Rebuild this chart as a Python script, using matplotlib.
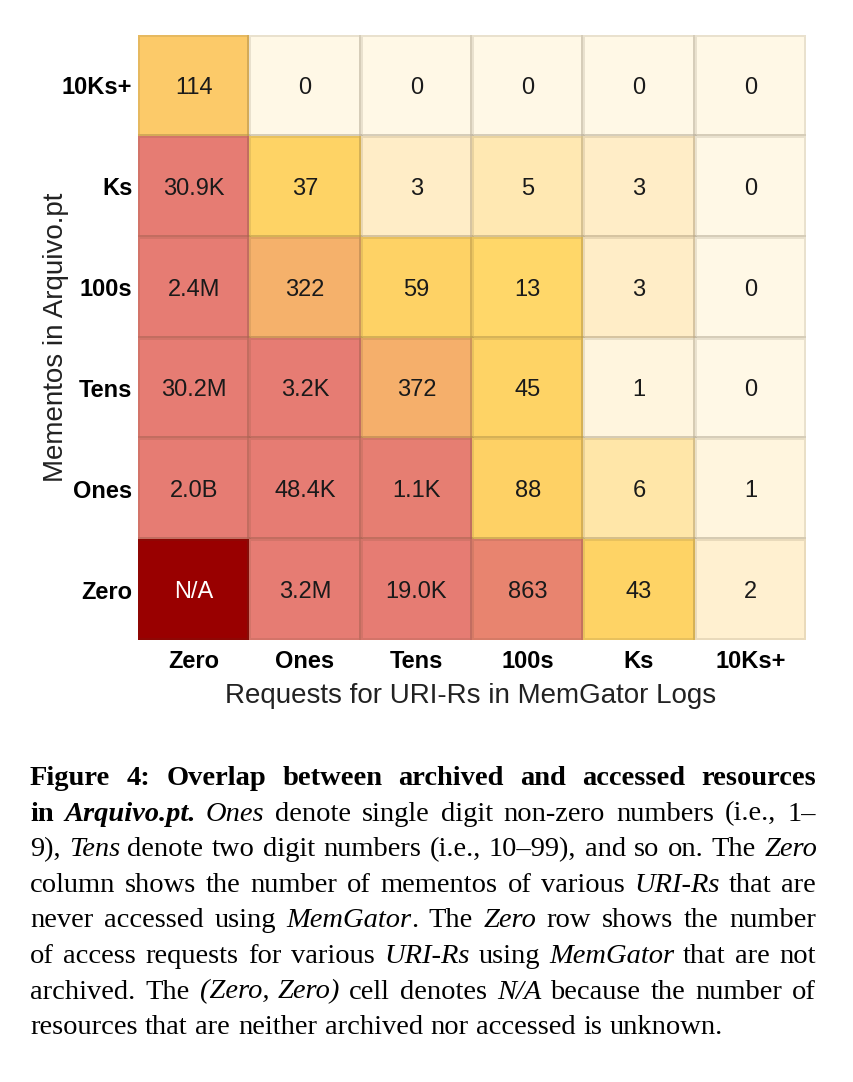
import numpy as np
import matplotlib
matplotlib.use("Agg")
import matplotlib.pyplot as plt
from matplotlib.colors import LinearSegmentedColormap, Normalize

# rows top to bottom (mementos), columns left to right (requests)
rows = ["10Ks+", "Ks", "100s", "Tens", "Ones", "Zero"]
cols = ["Zero", "Ones", "Tens", "100s", "Ks", "10Ks+"]

counts = np.array([
    [114, 0, 0, 0, 0, 0],
    [30.9e3, 37, 3, 5, 3, 0],
    [2.4e6, 322, 59, 13, 3, 0],
    [30.2e6, 3.2e3, 372, 45, 1, 0],
    [2.0e9, 48.4e3, 1.1e3, 88, 6, 1],
    [np.nan, 3.2e6, 19.0e3, 863, 43, 2],
])

cell_text = [
    ["114", "0", "0", "0", "0", "0"],
    ["30.9K", "37", "3", "5", "3", "0"],
    ["2.4M", "322", "59", "13", "3", "0"],
    ["30.2M", "3.2K", "372", "45", "1", "0"],
    ["2.0B", "48.4K", "1.1K", "88", "6", "1"],
    ["N/A", "3.2M", "19.0K", "863", "43", "2"],
]

x_title = "Requests for URI-Rs in MemGator Logs"
y_title = "Mementos in Arquivo.pt"

# caption lines as (style, text) runs; r=regular, i=italic, b=bold, bi=bold italic
caption = [
    [("b", "Figure 4: Overlap between archived and accessed resources")],
    [("b", "in "), ("bi", "Arquivo.pt."), ("r", " "), ("i", "Ones"),
     ("r", " denote single digit non-zero numbers (i.e., 1\u2013")],
    [("r", "9), "), ("i", "Tens"),
     ("r", " denote two digit numbers (i.e., 10\u201399), and so on. The "), ("i", "Zero")],
    [("r", "column shows the number of mementos of various "), ("i", "URI-Rs"),
     ("r", " that are")],
    [("r", "never accessed using "), ("i", "MemGator"), ("r", ". The "), ("i", "Zero"),
     ("r", " row shows the number")],
    [("r", "of access requests for various "), ("i", "URI-Rs"), ("r", " using "),
     ("i", "MemGator"), ("r", " that are not")],
    [("r", "archived. The "), ("i", "(Zero, Zero)"), ("r", " cell denotes "), ("i", "N/A"),
     ("r", " because the number of")],
    [("r", "resources that are neither archived nor accessed is unknown.")],
]

# colour scale on log10(count + 1)
stops = [
    (0.0, "#FFF8E6"), (0.30, "#FFF5DD"), (0.60, "#FFEDC6"), (0.85, "#FFE5A4"),
    (1.15, "#FFD666"), (1.95, "#FED165"), (2.06, "#FBC86A"), (2.55, "#F5AF6B"),
    (2.94, "#E8846F"), (3.04, "#E67C73"), (10.0, "#E67C73"),
]
cmap = LinearSegmentedColormap.from_list("sheet", [(p / 10.0, c) for p, c in stops])
cmap.set_bad("#990000")

plt.rcParams["font.family"] = "Liberation Sans"

W, H = 854, 1082
fig = plt.figure(figsize=(W / 100, H / 100), dpi=100)
ax = fig.add_axes([138 / W, 1 - 640 / H, (806 - 138) / W, (640 - 35) / H])

z = np.ma.masked_invalid(np.log10(counts + 1))
ax.pcolormesh(z, cmap=cmap, norm=Normalize(0, 10),
              edgecolors=(0.3, 0.25, 0.15, 0.12), linewidth=1.5)
ax.set_xlim(0, 6)
ax.set_ylim(6, 0)

for i in range(len(rows)):
    for j in range(len(cols)):
        t = cell_text[i][j]
        ax.text(j + 0.5, i + 0.585, t, ha="center", va="baseline", fontsize=17,
                color="white" if t == "N/A" else "#1a1a1a")

ax.set_xticks(np.arange(6) + 0.5)
ax.set_xticklabels(cols, fontsize=17, fontweight="bold")
ax.set_yticks(np.arange(6) + 0.5)
ax.set_yticklabels(rows, fontsize=17, fontweight="bold")
ax.tick_params(length=0)
ax.tick_params(axis="x", pad=7)
ax.tick_params(axis="y", pad=4)
for s in ax.spines.values():
    s.set_visible(False)

fig.text(471 / W, 1 - 703 / H, x_title, ha="center", va="baseline", fontsize=20,
         color="#222222")
fig.text(56 / W, 1 - 337 / H, y_title, ha="center", va="center", rotation=90,
         fontsize=20, color="#222222")

# justified caption
styles = {"r": ("normal", "normal"), "i": ("normal", "italic"),
          "b": ("bold", "normal"), "bi": ("bold", "italic")}
renderer = fig.canvas.get_renderer()
left, right = 30, 816
base0, step = 785, 35.6
cap_size = 20.5


def split_words(runs):
    words, cur = [], []
    for st, txt in runs:
        parts = txt.split(" ")
        for k, p in enumerate(parts):
            if k > 0:
                if cur:
                    words.append(cur)
                cur = []
            if p:
                cur.append((st, p))
    if cur:
        words.append(cur)
    return words


def piece_width(st, txt, size):
    w, sl = styles[st]
    t = fig.text(0, 0, txt, fontsize=size, family="Liberation Serif",
                 fontweight=w, fontstyle=sl)
    bb = t.get_window_extent(renderer)
    t.remove()
    w_px = bb.width
    if sl == "italic":
        w_px -= 0.04 * size * 100 / 72  # italic overhang
    return w_px


def space_width(size):
    return 0.2 * size * 100 / 72


for n, runs in enumerate(caption):
    ws = split_words(runs)
    size = cap_size
    widths = [[piece_width(st, p, size) for st, p in w] for w in ws]
    total = sum(sum(w) for w in widths)
    natural = total + space_width(size) * (len(ws) - 1)
    if natural > right - left:
        size = size * (right - left) / natural * 0.995
        widths = [[piece_width(st, p, size) for st, p in w] for w in ws]
        total = sum(sum(w) for w in widths)
    if n < len(caption) - 1:
        gap = (right - left - total) / (len(ws) - 1)
    else:
        gap = 0.27 * size * 100 / 72
    x = left
    y = 1 - (base0 + n * step) / H
    for w, wd in zip(ws, widths):
        for (st, p), pw in zip(w, wd):
            fw, fs = styles[st]
            fig.text(x / W, y, p, fontsize=size, family="Liberation Serif",
                     fontweight=fw, fontstyle=fs, va="baseline", ha="left",
                     color="#000000")
            x += pw
        x += gap

fig.savefig("out.png", dpi=100)
